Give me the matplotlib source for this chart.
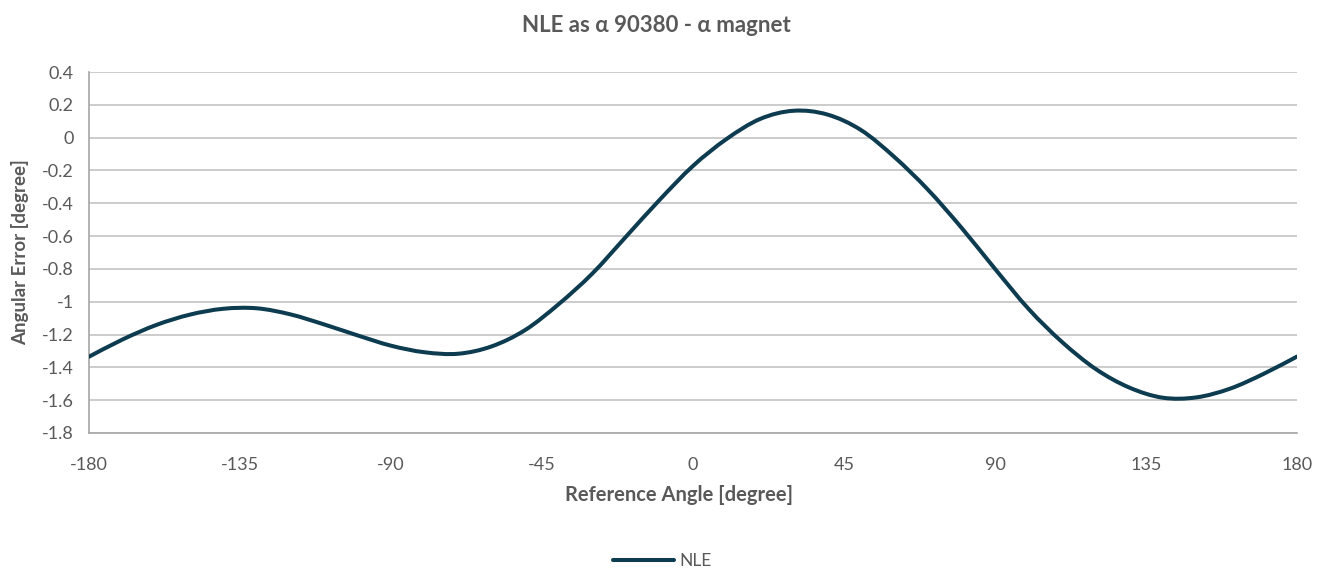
import numpy as np
import matplotlib
matplotlib.use("Agg")
import matplotlib.pyplot as plt
from matplotlib.path import Path
from matplotlib.patches import PathPatch

# datos (cada 10 grados)
angulo = [-180, -170, -160, -150, -140, -130, -120, -110, -100, -90, -80, -70, -60,
          -50, -40, -30, -20, -10, 0, 10, 20, 30, 40, 50, 60,
          70, 80, 90, 100, 110, 120, 130, 140, 150, 160, 170, 180]
nle = [-1.335, -1.230, -1.142, -1.079, -1.043, -1.040, -1.077, -1.138, -1.205, -1.268, -1.308, -1.317, -1.272,
       -1.172, -1.014, -0.828, -0.604, -0.380, -0.172, -0.008, 0.114, 0.164, 0.141, 0.047, -0.118,
       -0.317, -0.549, -0.800, -1.044, -1.246, -1.410, -1.523, -1.585, -1.583, -1.530, -1.440, -1.334]

x_ticks = [-180, -135, -90, -45, 0, 45, 90, 135, 180]
y_ticks = [0.4, 0.2, 0, -0.2, -0.4, -0.6, -0.8, -1, -1.2, -1.4, -1.6, -1.8]
y_labels = ["0.4", "0.2", "0", "-0.2", "-0.4", "-0.6", "-0.8", "-1", "-1.2", "-1.4", "-1.6", "-1.8"]

color_linea = "#0D3B50"
color_texto = "#595959"
plt.rcParams["font.family"] = ["Lato", "DejaVu Sans"]

fig = plt.figure(figsize=(13.25, 5.68), dpi=100)
ax = fig.add_axes([0.0672, 0.2377, 0.9117, 0.6355])

# linea suavizada como en Excel (curvas bezier entre los puntos)
x = np.array(angulo, dtype=float)
y = np.array(nle, dtype=float)
verts = [(x[0], y[0])]
codes = [Path.MOVETO]
n = len(x)
for i in range(n - 1):
    p0 = np.array([x[max(i - 1, 0)], y[max(i - 1, 0)]])
    p1 = np.array([x[i], y[i]])
    p2 = np.array([x[i + 1], y[i + 1]])
    p3 = np.array([x[min(i + 2, n - 1)], y[min(i + 2, n - 1)]])
    c1 = p1 + (p2 - p0) / 6.0
    c2 = p2 - (p3 - p1) / 6.0
    verts += [tuple(c1), tuple(c2), tuple(p2)]
    codes += [Path.CURVE4, Path.CURVE4, Path.CURVE4]
curva = PathPatch(Path(verts, codes), facecolor="none", edgecolor=color_linea,
                  linewidth=2.9, capstyle="round", joinstyle="round", zorder=3)
ax.add_patch(curva)
# linea vacia solo para la leyenda
ax.plot([], [], color=color_linea, linewidth=2.9, solid_capstyle="round", label="NLE")

ax.set_xlim(-180, 180)
ax.set_ylim(-1.8, 0.4)
ax.set_xticks(x_ticks)
ax.set_xticklabels([str(t) for t in x_ticks])
ax.set_yticks(y_ticks)
ax.set_yticklabels(y_labels)
ax.tick_params(length=0, labelsize=13, colors=color_texto)
ax.tick_params(axis="x", pad=17)
ax.tick_params(axis="y", pad=11)

ax.grid(axis="y", color="#BFBFBF", linewidth=1.1)
ax.set_axisbelow(True)
for lado in ["top", "right"]:
    ax.spines[lado].set_visible(False)
for lado in ["left", "bottom"]:
    ax.spines[lado].set_color("#A6A6A6")
    ax.spines[lado].set_linewidth(1.2)

ax.set_xlabel("Reference Angle [degree]", fontsize=14.5, fontweight="bold", color=color_texto)
ax.set_ylabel("Angular Error [degree]", fontsize=13.5, fontweight="bold", color=color_texto, labelpad=9)
ax.xaxis.set_label_coords(0.488, -0.145)

fig.text(0.495, 1 - 25 / 568, "NLE as α 90380 - α magnet", ha="center", va="center",
         fontsize=16, fontweight="bold", color=color_texto)

fig.legend(loc="center", bbox_to_anchor=(0.5, 1 - 561 / 568), frameon=False, fontsize=12.5,
           handlelength=3.5, handletextpad=0.3, labelcolor=color_texto)

fig.savefig("out.png", dpi=100)
